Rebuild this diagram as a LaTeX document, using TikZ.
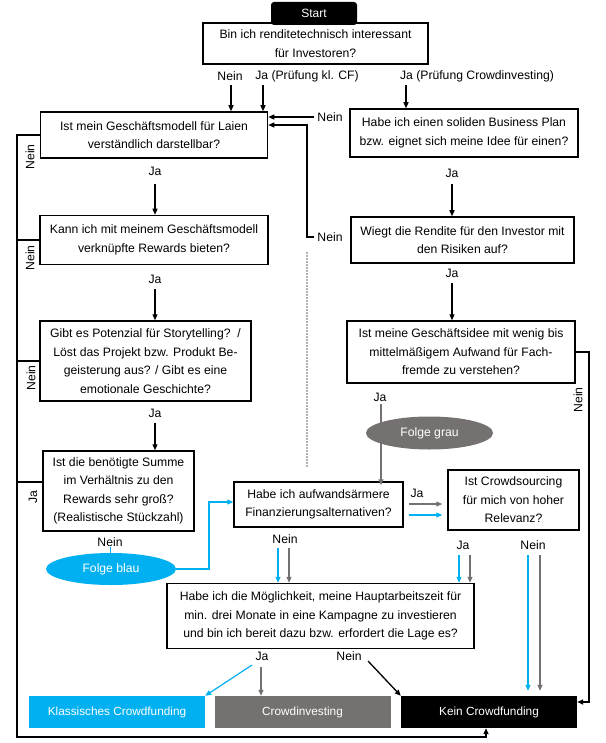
\documentclass[tikz,border=0pt]{standalone}
\usepackage{fontspec}
\setmainfont{Liberation Sans}
\usetikzlibrary{arrows.meta,shapes.geometric}
\definecolor{cfblue}{HTML}{00B0F0}
\definecolor{cfgray}{HTML}{767171}
\begin{document}
\begin{tikzpicture}[x=1pt,y=-1pt,
  every node/.style={font=\fontsize{12.2}{18.5}\selectfont},
  qbox/.style={draw=black,line width=1.5pt,align=center,inner sep=0pt,fill=white},
  endbox/.style={inner sep=0pt,text=white,font=\fontsize{11.8}{14}\selectfont,minimum width=176pt,minimum height=32pt},
  folge/.style={ellipse,inner sep=0pt,text=white},
  lbl/.style={inner sep=0pt},
  tip/.style={-{Triangle[length=6pt,width=5pt]}},
  arr/.style={line width=1.3pt,tip},
  line/.style={line width=1.5pt},
  garr/.style={line width=1.2pt,cfgray,tip},
  barr/.style={line width=1.2pt,cfblue,tip}]
\fill[white] (0,0) rectangle (605,743);
\useasboundingbox (0,0) rectangle (605,743);

% nodes
\node[qbox,minimum width=225pt,minimum height=41pt] (q1) at (315.5,43.5) {Bin ich renditetechnisch interessant\\für Investoren?};
\node[fill=black,text=white,rounded corners=3pt,minimum width=86pt,minimum height=23pt,inner sep=0pt,font=\fontsize{12}{13}\selectfont] (start) at (314,13.5) {Start};
\node[qbox,minimum width=227pt,minimum height=46pt] (q2) at (154,135) {Ist mein Geschäftsmodell für Laien\\verständlich darstellbar?};
\node[qbox,minimum width=228pt,minimum height=48pt] (bp) at (464,133) {Habe ich einen soliden Business Plan\\bzw. eignet sich meine Idee für einen?};
\node[qbox,minimum width=228pt,minimum height=49pt] (q3) at (154,240) {Kann ich mit meinem Geschäftsmodell\\verknüpfte Rewards bieten?};
\node[qbox,minimum width=223pt,minimum height=46pt] (wiegt) at (462.5,240) {Wiegt die Rendite für den Investor mit\\den Risiken auf?};
\node[qbox,minimum width=211pt,minimum height=80pt] (q4) at (145.5,361) {Gibt es Potenzial für Storytelling?~~/\\Löst das Projekt bzw. Produkt Be-\\geisterung aus? / Gibt es eine\\emotionale Geschichte?};
\node[qbox,minimum width=228pt,minimum height=62pt] (ist) at (461,352) {Ist meine Geschäftsidee mit wenig bis\\mittelmäßigem Aufwand für Fach-\\fremde zu verstehen?};
\node[qbox,minimum width=151pt,minimum height=80pt] (q5) at (118.5,491) {Ist die benötigte Summe\\im Verhältnis zu den\\Rewards sehr groß?\\(Realistische Stückzahl)};
\node[qbox,minimum width=169pt,minimum height=45pt] (auf) at (318.5,504.5) {Habe ich aufwandsärmere\\Finanzierungsalternativen?};
\node[qbox,minimum width=131pt,minimum height=60pt] (cs) at (513.5,500) {Ist Crowdsourcing\\für mich von hoher\\Relevanz?};
\node[qbox,minimum width=307pt,minimum height=65pt] (hm) at (320.5,616) {Habe ich die Möglichkeit, meine Hauptarbeitszeit für\\min. drei Monate in eine Kampagne zu investieren\\und bin ich bereit dazu bzw. erfordert die Lage es?};
\node[endbox,fill=cfblue] (kc) at (117,712) {Klassisches Crowdfunding};
\node[endbox,fill=cfgray] (ci) at (302.5,712) {Crowdinvesting};
\node[endbox,fill=black] (kein) at (489,712) {Kein Crowdfunding};

% top labels and arrows
\node[lbl] (n1) at (230,76) {Nein};
\node[lbl] (j1) at (307,76) {Ja (Prüfung kl. CF)};
\node[lbl] (j2) at (477,76) {Ja (Prüfung Crowdinvesting)};
\coordinate (a1) at (231,85);
\coordinate (a2) at (263,85);
\coordinate (a3) at (406,85);
\draw[arr] (a1) -- (a1 |- q2.north);
\draw[arr] (a2) -- (a2 |- q2.north);
\draw[arr] (a3) -- (a3 |- bp.north);

% Nein from business plan
\node[lbl] (n2) at (330,117) {Nein};
\draw[arr,shorten <=3pt] (n2.west) -- (n2.west -| q2.east);
% Nein from Wiegt
\node[lbl] (n3) at (330,237) {Nein};
\coordinate (c3) at (307,125);
\draw[arr,shorten <=3pt] (n3.west) -| (c3) -- (c3 -| q2.east);

% Ja arrows left column
\node[lbl] (ja1) at (155,171) {Ja};
\coordinate (s1) at (155,184);
\draw[arr] (s1) -- (s1 |- q3.north);
\node[lbl] (ja2) at (155,279) {Ja};
\coordinate (s2) at (155,289);
\draw[arr] (s2) -- (s2 |- q4.north);
\node[lbl] (ja3) at (155,413) {Ja};
\coordinate (s3) at (155,423);
\draw[arr] (s3) -- (s3 |- q5.north);
% Ja arrows right column
\node[lbl] (jr1) at (452,173) {Ja};
\coordinate (s4) at (452,184);
\draw[arr] (s4) -- (s4 |- wiegt.north);
\node[lbl] (jr2) at (452,273) {Ja};
\coordinate (s5) at (452,283);
\draw[arr] (s5) -- (s5 |- ist.north);

% left outer loop
\coordinate (L1) at (17,135);
\coordinate (L2) at (17,737);
\coordinate (B1) at (486,737);
\coordinate (b5) at (43,482);
\draw[line,tip] (q2.west) -- (L1) -- (L2) -- (B1) -- (B1 |- kein.south);
\draw[line] (q3.west) -- (q3.west -| L1);
\draw[line] (q4.west) -- (q4.west -| L1);
\draw[line] (b5) -- (b5 -| L1);
\node[lbl,rotate=90] at (30,157) {Nein};
\node[lbl,rotate=90] at (30,258) {Nein};
\node[lbl,rotate=90] at (31,378) {Nein};
\node[lbl,rotate=90] at (33,497) {Ja};

% right outer Nein
\coordinate (R1) at (589,352);
\coordinate (R2) at (589,702);
\draw[line,tip] (R1 -| ist.east) -- (R1) -- (R2) -- (R2 -| kein.east);
\node[lbl,rotate=90] at (578,400) {Nein};

% dotted separator
\coordinate (d1) at (307,252);
\coordinate (d2) at (307,467);
\draw[gray!60,line width=1.6pt,dash pattern=on 1.6pt off 1.4pt] (d1) -- (d2);

% Folge grau
\node[lbl] (jg) at (380,397) {Ja};
\coordinate (gs) at (381,404);
\draw[garr] (gs) -- ([yshift=-4pt]gs |- auf.north);
\node[folge,fill=cfgray,minimum width=127pt,minimum height=33pt] (fg) at (429.5,433) {Folge grau};

% Folge blau
\node[lbl] (nb) at (110,542) {Nein};
\node[folge,fill=cfblue,minimum width=130pt,minimum height=32pt] (fb) at (111,569) {Folge blau};
\draw[cfblue,line width=1pt] (nb.south) -- (nb.south |- fb.north);
\coordinate (bb) at (209,502);
\draw[barr] (fb.east) -| (bb) -- (bb -| auf.west);

% auf -> cs
\node[lbl] (ja4) at (417,493) {Ja};
\coordinate (g1) at (409,504);
\coordinate (g2) at (409,515);
\draw[garr,shorten >=5pt] (g1) -- (g1 -| cs.west);
\draw[barr,shorten >=5pt] (g2) -- (g2 -| cs.west);

% auf Nein -> hm
\node[lbl] (nn) at (285,539) {Nein};
\coordinate (u1) at (278,548);
\coordinate (u2) at (289,548);
\draw[barr] (u1) -- (u1 |- hm.north);
\draw[garr] (u2) -- (u2 |- hm.north);

% cs Ja -> hm, cs Nein -> kein
\node[lbl] (jc) at (463,545) {Ja};
\node[lbl] (nc) at (533,545) {Nein};
\coordinate (v1) at (459,555);
\coordinate (v2) at (470,555);
\coordinate (w1) at (528,555);
\coordinate (w2) at (540,555);
\draw[barr] (v1) -- (v1 |- hm.north);
\draw[garr] (v2) -- (v2 |- hm.north);
\draw[barr,shorten >=5pt] (w1) -- (w1 |- kein.north);
\draw[garr,shorten >=5pt] (w2) -- (w2 |- kein.north);

% hm -> results
\node[lbl] (jh) at (262,656) {Ja};
\node[lbl] (nh) at (349,656) {Nein};
\coordinate (e1) at (252,665);
\coordinate (e2) at (261,667);
\coordinate (e3) at (368,661);
\draw[barr] (e1) -- (kc.north east);
\draw[garr] (e2) -- (e2 |- ci.north);
\draw[arr] (e3) -- (kein.north west);
\end{tikzpicture}
\end{document}
